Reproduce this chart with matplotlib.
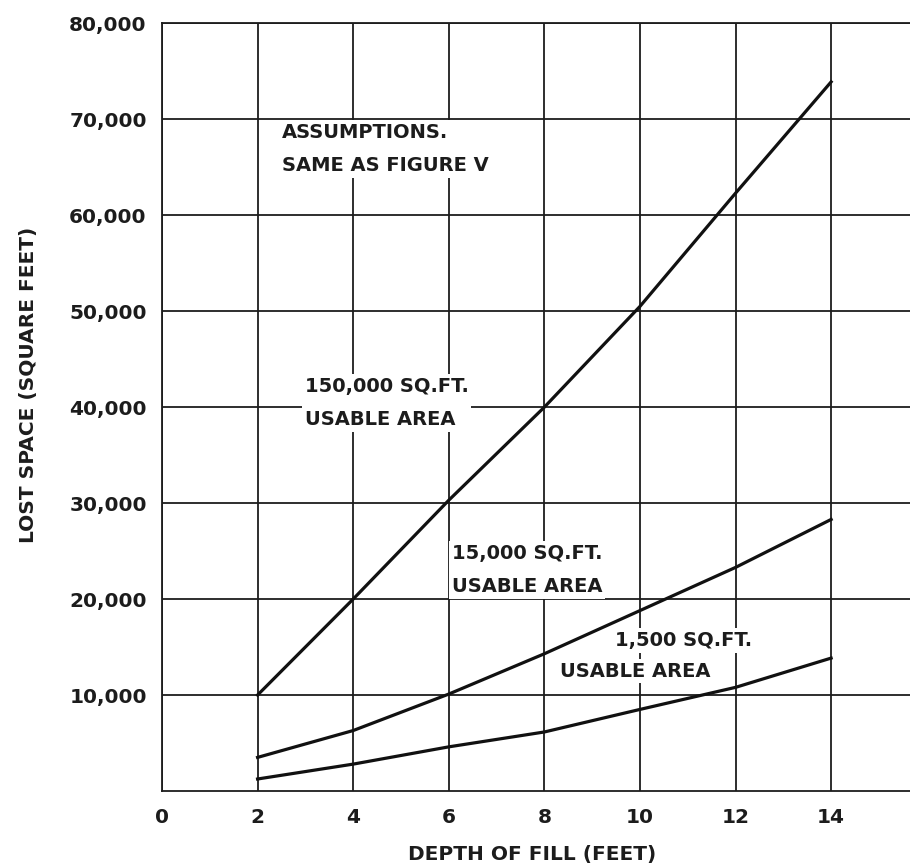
import numpy as np
import matplotlib.pyplot as plt

plt.rcParams['font.family'] = ['DejaVu Sans']

# donnees
depth = [2, 4, 6, 8, 10, 12, 14]
lost_150000 = [10000, 20000, 30300, 40000, 50500, 62300, 73900]
lost_15000 = [3500, 6300, 10100, 14300, 18800, 23300, 28300]
lost_1500 = [1250, 2800, 4600, 6150, 8500, 10800, 13850]

x_ticks = [0, 2, 4, 6, 8, 10, 12, 14]
y_ticks = [10000, 20000, 30000, 40000, 50000, 60000, 70000, 80000]

ink = '#1c1c1c'

fig = plt.figure(figsize=(9.1, 8.64), dpi=100)
ax = fig.add_axes([0.178, 0.0845, 0.822, 0.8885])

ax.set_xlim(0, 15.65)
ax.set_ylim(0, 80000)
ax.set_xticks(x_ticks)
ax.set_yticks(y_ticks)
ax.set_yticklabels([f'{v:,}' for v in y_ticks])
ax.tick_params(length=0, labelsize=14.5, colors=ink)
ax.tick_params(axis='y', pad=11)
ax.tick_params(axis='x', pad=12)
for lab in ax.get_xticklabels() + ax.get_yticklabels():
    lab.set_fontweight('bold')
ax.grid(True, color=ink, linewidth=1.3, zorder=0.5)
ax.set_axisbelow(True)
ax.spines['right'].set_visible(False)
for s in ['left', 'bottom', 'top']:
    ax.spines[s].set_color(ink)
    ax.spines[s].set_linewidth(1.3)

for y in [lost_150000, lost_15000, lost_1500]:
    ax.plot(depth, y, color='#111111', linewidth=2.3, zorder=3)

# etiquettes (fond blanc qui coupe la grille, sous les courbes)
box = dict(facecolor='white', edgecolor='none', pad=2)
tkw = dict(fontsize=14, fontweight='bold', color=ink, linespacing=1.95,
           bbox=box, zorder=2, va='center', ha='left')
ax.text(2.51, 66900, 'ASSUMPTIONS.\nSAME AS FIGURE V', **tkw)
ax.text(2.99, 40400, '150,000 SQ.FT.\nUSABLE AREA', **tkw)
ax.text(6.06, 23000, '15,000 SQ.FT.\nUSABLE AREA', **tkw)
ax.text(9.47, 15700, '1,500 SQ.FT.', **tkw)
ax.text(8.32, 12500, 'USABLE AREA', **tkw)

ax.set_xlabel('DEPTH OF FILL (FEET)', fontsize=14.5, fontweight='bold', color=ink)
ax.set_ylabel('LOST SPACE (SQUARE FEET)', fontsize=14.5, fontweight='bold', color=ink)
ax.xaxis.set_label_coords(0.495, -0.083)
ax.yaxis.set_label_coords(-0.178, 0.529)
ax.xaxis.label.set_va('center')
ax.yaxis.label.set_va('center')

fig.savefig('out.png', dpi=100)
